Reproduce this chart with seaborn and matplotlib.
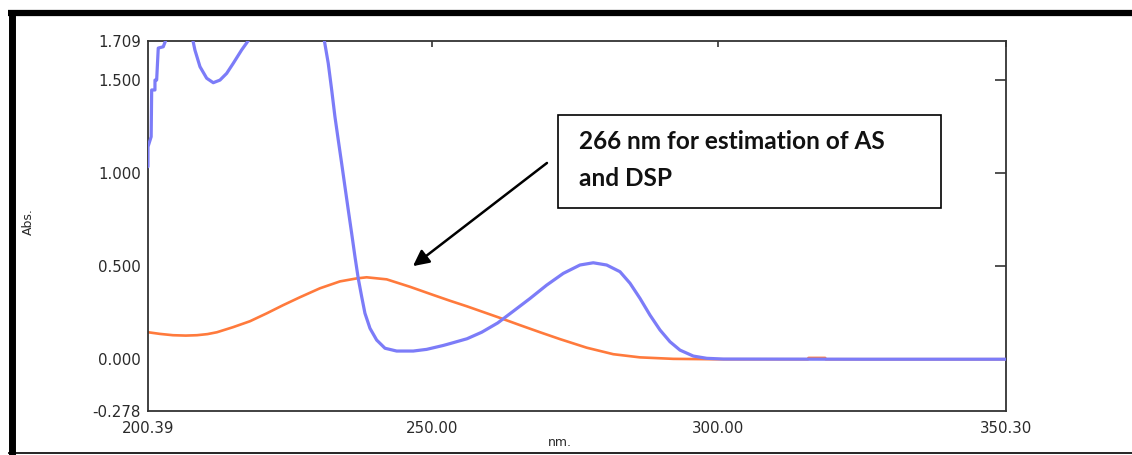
import pandas as pd
import seaborn as sns
import matplotlib
matplotlib.use("Agg")
import matplotlib.pyplot as plt
from matplotlib.patches import Rectangle
from matplotlib.lines import Line2D

# === spectrum data (nm, Abs.)
blue_nm = [200.39, 200.40, 200.95, 201.04, 201.61, 201.62, 201.91, 202.19, 203.06, 203.48,
           204.5, 206.0, 207.5, 208.25, 208.60, 209.48, 210.65, 211.80, 212.97, 214.14,
           215.29, 216.76, 217.92, 220.0, 224.0, 228.0, 231.19, 231.89, 232.49, 233.06,
           233.64, 234.23, 234.81, 235.39, 235.98, 236.56, 237.13, 237.73, 238.30, 239.18,
           240.35, 241.80, 243.84, 246.74, 249.08, 251.98, 253.16, 256.13, 258.70, 261.50,
           264.22, 267.13, 270.05, 272.95, 275.87, 278.19, 280.53, 282.86, 284.61, 286.35,
           288.10, 289.85, 291.59, 293.34, 295.67, 298.01, 300.91, 325.0, 350.30]
blue_abs = [1.034, 1.141, 1.195, 1.446, 1.446, 1.499, 1.499, 1.671, 1.678, 1.711,
            1.80, 1.82, 1.76, 1.711, 1.66, 1.571, 1.509, 1.485, 1.499, 1.535,
            1.589, 1.661, 1.711, 1.80, 1.90, 1.85, 1.714, 1.589, 1.446, 1.302,
            1.177, 1.052, 0.926, 0.801, 0.676, 0.550, 0.434, 0.336, 0.247, 0.166,
            0.103, 0.059, 0.044, 0.044, 0.053, 0.074, 0.084, 0.110, 0.145, 0.195,
            0.258, 0.326, 0.398, 0.461, 0.506, 0.518, 0.506, 0.47, 0.408, 0.327,
            0.237, 0.157, 0.094, 0.049, 0.017, 0.005, 0.001, 0.0, 0.0]

orange_nm = [200.39, 202.5, 204.76, 207.0, 208.95, 210.8, 212.45, 215.24, 218.21, 221.18,
             223.98, 226.95, 230.44, 233.94, 236.85, 238.60, 242.10, 246.17, 250.24, 253.16,
             256.13, 258.92, 261.89, 265.39, 268.88, 272.38, 277.04, 281.69, 286.35, 292.17,
             299.16, 315.7, 315.8, 318.7, 318.8, 350.30]
orange_abs = [0.145, 0.136, 0.129, 0.127, 0.129, 0.135, 0.145, 0.172, 0.204, 0.247,
              0.29, 0.333, 0.381, 0.418, 0.434, 0.44, 0.429, 0.389, 0.345, 0.314,
              0.284, 0.254, 0.222, 0.183, 0.145, 0.108, 0.062, 0.027, 0.010, 0.002,
              0.0, 0.0, 0.007, 0.007, 0.0, 0.0]

x_ticks = [200.39, 250.00, 300.00, 350.30]
y_ticks = [-0.278, 0.000, 0.500, 1.000, 1.500, 1.709]

blue_df = pd.DataFrame({"nm": blue_nm, "Abs": blue_abs})
orange_df = pd.DataFrame({"nm": orange_nm, "Abs": orange_abs})

sns.set_style("white")
plt.rcParams['font.family'] = ['DejaVu Sans']

fig = plt.figure(figsize=(11.32, 4.55), dpi=100)
ax = fig.add_axes([0.1307, 0.0967, 0.7580, 0.8132])

sns.lineplot(data=orange_df, x="nm", y="Abs", ax=ax, color="#ff7a3c", lw=1.9,
             estimator=None, sort=False, zorder=2)
sns.lineplot(data=blue_df, x="nm", y="Abs", ax=ax, color="#7c7cf8", lw=2.3,
             estimator=None, sort=False, zorder=3)

ax.set_xlim(200.39, 350.30)
ax.set_ylim(-0.278, 1.709)
ax.set_xticks(x_ticks)
ax.set_xticklabels([f"{v:.2f}" for v in x_ticks])
ax.set_yticks(y_ticks)
ax.set_yticklabels([f"{v:.3f}" for v in y_ticks])
ax.set_xlabel("")
ax.set_ylabel("")
ax.tick_params(direction="in", top=True, right=True, length=8, width=1.2,
               color="#333333", labelsize=10.8, labelcolor="#2a2a2a")
ax.tick_params(axis="y", pad=5)
ax.tick_params(axis="x", pad=7)

# per-side tick lengths, hide ticks lying on the spines
for t in ax.yaxis.get_major_ticks():
    t.tick1line.set_markersize(10)
    t.tick2line.set_markersize(8)
for t, v in zip(ax.yaxis.get_major_ticks(), y_ticks):
    if v in (-0.278, 1.709):
        t.tick1line.set_visible(False)
        t.tick2line.set_visible(False)
for t, v in zip(ax.xaxis.get_major_ticks(), x_ticks):
    t.tick2line.set_markersize(4)
    if v == 200.39:
        t.tick1line.set_visible(False)
        t.tick2line.set_visible(False)

for s in ax.spines.values():
    s.set_color("#333333")
    s.set_linewidth(1.3)

fig.text(28 / 1132, 1 - 222 / 455, "Abs.", rotation=90, ha="center", va="center",
         fontsize=9, color="#2a2a2a")
fig.text(560 / 1132, 1 - 442 / 455, "nm.", ha="center", va="center",
         fontsize=9, color="#2a2a2a")

# === annotation box and arrow
ax.annotate("", xy=(246.69, 0.50), xytext=(270.10, 1.054),
            arrowprops=dict(arrowstyle="-|>", color="black", lw=1.8,
                            mutation_scale=24, shrinkA=0, shrinkB=0))
fig.add_artist(Rectangle((558 / 1132, 1 - 208 / 455), 383 / 1132, 93 / 455,
                         transform=fig.transFigure, fill=False, lw=1.2, ec="black"))
line1 = fig.text(579 / 1132, 1 - 149 / 455, "266 nm for estimation of AS",
                 fontsize=14, fontweight="bold", family=["Lato", "DejaVu Sans"],
                 ha="left", va="baseline", color="#111111")
line2 = fig.text(579 / 1132, 1 - 186 / 455, "and DSP",
                 fontsize=14, fontweight="bold", family=["Lato", "DejaVu Sans"],
                 ha="left", va="baseline", color="#111111")
fig.canvas.draw()
w = line1.get_window_extent().width
size = 14 * 308 / w
line1.set_fontsize(size)
line2.set_fontsize(size)

# === outer frame of the picture
fig.add_artist(Line2D([8 / 1132, 1.0], [1 - 13 / 455] * 2, transform=fig.transFigure,
                      color="black", lw=4.5, solid_capstyle="butt"))
fig.add_artist(Line2D([11.5 / 1132] * 2, [1 - 10 / 455, 0.0], transform=fig.transFigure,
                      color="black", lw=5, solid_capstyle="butt"))
fig.add_artist(Line2D([8 / 1132, 1.0], [1 - 452.5 / 455] * 2, transform=fig.transFigure,
                      color="black", lw=1.2, solid_capstyle="butt"))

fig.savefig("out.png", dpi=100)
